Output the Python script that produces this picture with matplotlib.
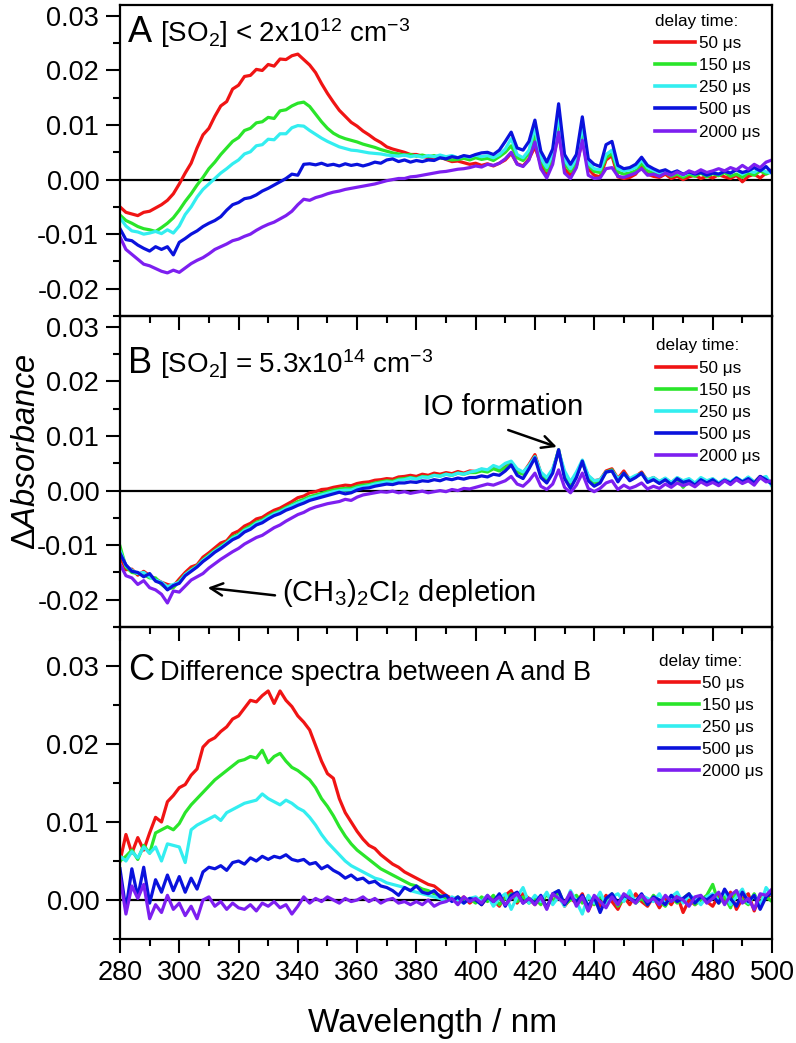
import numpy as np
import matplotlib
matplotlib.use('Agg')
import matplotlib.pyplot as plt
from matplotlib.ticker import MultipleLocator, FormatStrFormatter

plt.rcParams['font.family'] = ['Liberation Sans', 'DejaVu Sans']
plt.rcParams['mathtext.fontset'] = 'custom'
plt.rcParams['mathtext.rm'] = 'Liberation Sans'
plt.rcParams['mathtext.it'] = 'Liberation Sans:italic'
plt.rcParams['axes.unicode_minus'] = False

# wavelength grid, nm (2 nm steps)
wavelength = np.arange(280, 501, 2)
delay_labels = ['50 μs', '150 μs', '250 μs', '500 μs', '2000 μs']
colors = ['#f01414', '#2ae52a', '#33eef0', '#0a12dc', '#7d1ff0']

# all absorbance values below are in units of 1e-3
# panel A: [SO2] < 2x10^12
a_50 = [-5.0, -6.0, -6.3, -6.6, -6.0, -5.8, -5.2, -4.6, -3.8, -2.6,
        -0.8, 1.2, 3.0, 5.8, 8.2, 9.4, 11.6, 13.5, 14.3, 16.6,
        17.3, 18.9, 19.1, 20.2, 20.0, 21.1, 20.8, 22.1, 22.0, 22.7,
        23.0, 22.0, 21.0, 19.6, 17.6, 15.8, 14.2, 12.7, 11.6, 10.5,
        9.8, 8.9, 8.2, 7.4, 6.8, 6.0, 5.6, 5.3, 5.0, 4.6,
        4.6, 4.3, 4.0, 3.8, 4.1, 3.7, 3.3, 3.4, 3.1, 2.8,
        3.0, 2.6, 2.9, 2.5, 3.0, 3.6, 4.8, 2.9, 2.5, 3.8,
        6.0, 2.8, 1.0, 3.5, 8.5, 2.0, 0.8, 2.5, 7.2, 2.0,
        0.8, 0.5, 3.6, 4.4, 0.5, 0.2, 0.4, 1.0, 2.6, 1.0,
        0.6, 0.4, 1.0, 0.2, 0.6, 0.0, 0.5, 0.8, 0.2, 0.6,
        0.3, 0.9, 0.5, 0.2, 0.8, -0.4, 0.6, 1.0, 0.3, 1.2,
        1.8]
a_150 = [-6.5, -7.5, -8.0, -8.6, -9.0, -9.2, -9.5, -8.8, -8.0, -7.0,
         -5.6, -4.0, -2.6, -1.0, 0.4, 2.0, 3.2, 4.6, 5.8, 7.0,
         7.7, 9.0, 9.4, 10.4, 10.6, 11.4, 11.2, 12.6, 12.8, 13.5,
         14.0, 14.2, 13.4, 12.0, 10.6, 9.4, 8.5, 7.9, 7.5, 7.2,
         6.9, 6.5, 6.2, 5.9, 5.5, 5.2, 4.9, 4.7, 4.5, 4.6,
         4.3, 4.5, 4.2, 4.4, 4.0, 3.8, 3.6, 3.7, 3.9, 3.6,
         4.0, 3.7, 3.9, 3.5, 4.2, 5.0, 6.2, 4.0, 3.5, 4.8,
         8.2, 3.6, 1.6, 4.2, 10.5, 3.0, 1.5, 3.2, 9.0, 2.6,
         1.5, 1.3, 4.0, 4.8, 1.4, 1.0, 1.2, 1.6, 3.0, 1.6,
         1.2, 0.8, 1.3, 0.6, 1.0, 0.4, 1.0, 0.6, 1.2, 0.5,
         1.1, 0.7, 1.3, 0.6, 1.0, 0.4, 1.2, 0.8, 1.6, 1.0,
         1.5]
a_250 = [-7.0, -8.5, -9.4, -9.6, -10.0, -9.8, -9.5, -9.9, -9.2, -9.8,
         -8.5, -6.4, -5.0, -3.2, -1.8, -0.8, 0.2, 1.2, 2.0, 2.9,
         3.6, 4.7, 5.1, 6.2, 6.4, 7.4, 7.3, 8.4, 8.4, 9.5,
         9.9, 9.8, 9.0, 8.3, 7.6, 7.0, 6.5, 6.0, 5.7, 5.4,
         5.3, 5.1, 4.9, 4.8, 4.7, 4.5, 4.4, 4.3, 4.5, 4.2,
         4.4, 4.1, 4.4, 4.2, 4.5, 4.2, 4.4, 4.0, 4.3, 4.1,
         4.5, 4.2, 4.4, 4.0, 4.6, 5.6, 7.5, 4.6, 4.0, 5.4,
         9.6, 4.0, 2.2, 4.8, 12.0, 3.6, 2.0, 3.8, 10.0, 3.0,
         2.0, 1.8, 4.6, 5.4, 2.0, 1.6, 1.8, 2.2, 3.6, 2.2,
         1.7, 1.2, 1.6, 1.0, 1.4, 0.8, 1.3, 1.0, 1.5, 0.9,
         1.4, 1.0, 1.6, 1.2, 1.8, 1.0, 1.6, 1.3, 2.0, 1.4,
         1.2]
a_500 = [-9.0, -11.0, -11.2, -12.0, -12.6, -13.1, -12.3, -12.8, -12.3, -13.8,
         -11.5, -10.8, -10.0, -9.4, -8.6, -8.0, -7.5, -6.8, -5.6, -4.6,
         -4.2, -3.5, -3.3, -2.8, -2.1, -1.6, -1.0, -0.4, 0.2, 1.0,
         0.8, 2.8, 2.9, 2.7, 3.0, 2.6, 2.8, 2.5, 2.9, 2.6,
         2.8, 2.5, 2.8, 3.2, 3.0, 3.6, 3.8, 3.3, 3.6, 3.2,
         3.5, 3.3, 3.6, 3.5, 4.0, 3.8, 4.2, 4.0, 4.4, 4.2,
         4.6, 4.9, 5.0, 4.6, 5.4, 7.0, 8.7, 5.8, 5.4, 7.0,
         10.9, 5.2, 3.2, 5.6, 13.9, 4.6, 2.8, 4.6, 11.5, 3.8,
         2.8, 2.4, 6.4, 7.0, 2.6, 2.0, 2.2, 2.8, 4.1, 2.6,
         2.0, 1.5, 1.8, 1.2, 1.6, 1.0, 1.4, 1.0, 1.3, 0.8,
         1.2, 1.0, 1.5, 1.2, 1.8, 1.3, 1.6, 2.2, 1.6, 2.4,
         1.2]
a_2000 = [-10.5, -12.8, -13.7, -14.6, -15.5, -15.8, -16.3, -16.8, -17.1, -16.6,
          -17.0, -16.2, -15.4, -14.8, -14.3, -13.6, -12.8, -12.3, -11.8, -11.2,
          -10.9, -10.4, -10.0, -9.3, -8.7, -8.2, -7.8, -7.2, -6.6, -5.8,
          -4.6, -3.6, -3.8, -3.3, -3.0, -2.6, -2.3, -2.1, -1.8, -1.6,
          -1.4, -1.2, -1.0, -0.8, -0.5, -0.2, 0.0, 0.2, 0.2, 0.5,
          0.6, 0.8, 1.0, 1.2, 1.4, 1.5, 1.7, 1.9, 2.0, 2.2,
          2.5, 2.3, 2.8, 2.6, 3.0, 3.8, 5.0, 2.8, 2.4, 3.6,
          6.9, 2.0, 0.3, 2.8, 8.7, 1.2, 0.2, 2.2, 7.2, 0.8,
          0.2, 0.3, 2.0, 2.2, 0.6, 0.4, 0.8, 1.2, 2.0, 0.8,
          1.0, 0.6, 1.2, 0.8, 1.4, 0.9, 1.6, 1.2, 1.8, 1.3,
          1.6, 2.0, 1.6, 2.2, 1.8, 2.6, 1.9, 2.8, 2.2, 3.2,
          3.6]

# panel B: [SO2] = 5.3x10^14
b_50 = [-12.0, -14.5, -14.4, -15.5, -14.8, -15.6, -16.2, -16.8, -17.2, -17.5,
        -16.2, -15.0, -14.0, -13.6, -12.2, -11.4, -10.5, -9.6, -9.2, -7.9,
        -7.4, -6.5, -6.0, -5.2, -4.9, -4.2, -3.6, -3.2, -2.6, -2.0,
        -1.3, -1.0, -0.4, -0.2, 0.2, 0.3, 0.6, 0.8, 1.0, 0.9,
        1.3, 1.5, 1.6, 1.9, 2.0, 2.2, 2.1, 2.5, 2.6, 2.8,
        2.6, 3.0, 2.8, 3.2, 3.0, 3.3, 3.1, 3.5, 3.2, 3.6,
        3.5, 3.9, 3.6, 4.2, 3.8, 4.4, 5.0, 3.6, 3.2, 4.8,
        6.6, 3.2, 2.0, 3.8, 7.2, 3.0, 1.6, 3.0, 5.2, 2.6,
        1.8, 2.0, 3.6, 4.0, 2.2, 3.6, 2.0, 2.6, 3.4, 1.8,
        2.4, 1.6, 2.2, 1.4, 2.3, 1.7, 2.0, 1.2, 2.2, 1.6,
        2.1, 1.3, 2.0, 1.5, 2.2, 1.6, 2.4, 1.5, 2.6, 1.8,
        1.6]
b_150 = [-10.2, -14.0, -15.0, -15.2, -15.4, -16.0, -16.0, -17.2, -18.0, -17.8,
         -16.6, -15.4, -14.5, -13.8, -12.7, -11.8, -11.0, -10.2, -9.5, -8.5,
         -8.0, -7.1, -6.5, -5.8, -5.4, -4.7, -4.1, -3.7, -3.1, -2.6,
         -2.0, -1.6, -1.1, -0.8, -0.5, -0.2, 0.1, 0.3, 0.4, 0.4,
         0.8, 1.0, 1.1, 1.4, 1.6, 1.8, 1.7, 2.1, 2.2, 2.4,
         2.2, 2.6, 2.5, 2.8, 2.7, 3.0, 2.8, 3.2, 3.0, 3.3,
         3.3, 3.6, 3.4, 4.0, 3.6, 4.2, 5.0, 3.4, 3.0, 4.4,
         6.2, 3.0, 1.8, 3.6, 7.5, 2.8, 1.2, 2.8, 5.4, 2.4,
         1.4, 1.8, 3.4, 3.8, 2.0, 3.2, 2.0, 2.6, 3.2, 1.8,
         2.2, 1.5, 2.1, 1.3, 2.2, 0.6, 1.9, 1.2, 2.1, 1.5,
         2.0, 1.2, 1.9, 1.4, 2.1, 1.5, 2.3, 1.4, 2.5, 1.8,
         1.4]
b_250 = [-11.0, -13.8, -14.6, -15.2, -15.0, -15.8, -16.4, -16.8, -17.6, -17.2,
         -16.8, -15.4, -14.6, -13.9, -12.8, -12.0, -11.1, -10.4, -9.6, -8.7,
         -8.2, -7.3, -6.8, -6.0, -5.6, -4.9, -4.3, -3.9, -3.3, -2.8,
         -2.3, -1.9, -1.4, -1.1, -0.8, -0.5, -0.2, 0.0, 0.1, 0.1,
         0.5, 0.7, 0.9, 1.2, 1.4, 1.6, 1.5, 1.9, 2.0, 2.3,
         2.1, 2.5, 2.4, 2.8, 2.6, 3.0, 2.8, 3.2, 3.0, 3.4,
         3.6, 4.0, 3.8, 4.6, 4.2, 5.0, 5.4, 4.0, 3.4, 4.6,
         6.2, 3.4, 2.4, 4.0, 7.2, 3.6, 1.6, 3.4, 5.6, 2.8,
         1.8, 2.0, 3.4, 3.6, 2.2, 3.0, 2.2, 2.8, 3.0, 2.0,
         2.4, 1.7, 2.3, 1.5, 2.4, 1.8, 2.2, 1.4, 2.4, 1.8,
         2.2, 1.4, 2.1, 1.6, 2.4, 1.7, 2.5, 1.6, 2.2, 2.6,
         0.8]
b_500 = [-11.5, -13.6, -14.8, -15.0, -15.8, -15.2, -16.6, -17.0, -18.2, -17.4,
         -17.0, -15.6, -14.8, -14.0, -13.0, -12.2, -11.3, -10.6, -9.8, -9.0,
         -8.5, -7.6, -7.1, -6.3, -5.9, -5.2, -4.6, -4.2, -3.6, -3.2,
         -2.7, -2.3, -1.8, -1.5, -1.2, -0.9, -0.6, -0.3, -0.6, -0.4,
         0.1, 0.4, 0.5, 0.8, 1.0, 1.2, 1.1, 1.4, 1.4, 1.6,
         1.5, 1.8, 1.7, 2.0, 1.8, 2.2, 2.0, 2.3, 2.1, 2.4,
         2.4, 2.7, 2.5, 3.0, 2.8, 3.6, 4.7, 2.8, 2.2, 4.0,
         6.0, 2.4, 1.4, 3.2, 7.5, 2.2, 0.4, 2.4, 5.4, 1.8,
         0.8, 1.4, 3.4, 3.6, 1.6, 3.2, 1.8, 2.4, 3.2, 1.5,
         2.0, 1.3, 2.0, 1.1, 2.2, 1.5, 1.8, 1.0, 2.0, 1.4,
         2.0, 1.2, 1.9, 1.4, 2.3, 1.6, 2.2, 1.4, 2.6, 2.0,
         1.2]
b_2000 = [-13.5, -15.6, -16.0, -17.2, -16.5, -17.8, -18.2, -19.0, -20.6, -18.4,
          -18.6, -17.5, -16.4, -15.8, -15.2, -14.2, -13.4, -12.6, -11.9, -11.2,
          -10.6, -9.8, -9.2, -8.6, -8.2, -7.5, -6.8, -6.3, -5.6, -5.0,
          -4.4, -4.0, -3.4, -3.0, -2.7, -2.4, -2.2, -2.0, -1.6, -1.8,
          -1.2, -0.8, -0.6, -0.4, -0.2, -0.3, -0.1, -0.4, -0.2, -0.5,
          -0.3, -0.1, -0.4, -0.2, 0.0, -0.2, 0.2, 0.0, 0.4, 0.3,
          0.6, 0.9, 1.2, 1.0, 1.4, 1.8, 2.6, 1.2, 0.8, 1.8,
          3.2, 0.8, 0.2, 1.2, 3.8, 0.6, -0.4, 1.0, 3.2, 0.4,
          -0.2, 0.4, 1.4, 1.8, 0.2, 1.0, 0.4, 0.8, 1.4, 0.3,
          0.8, 0.4, 1.2, 0.6, 1.4, 0.9, 1.3, 0.7, 1.6, 1.0,
          1.5, 0.9, 1.8, 1.1, 2.0, 1.3, 1.8, 1.0, 2.4, 1.6,
          1.8]

# panel C: difference A - B
c_50 = [5.0, 8.4, 6.0, 8.0, 6.4, 8.6, 10.6, 10.0, 12.6, 13.4,
        14.4, 14.8, 16.0, 16.8, 19.6, 20.4, 20.8, 21.6, 22.2, 23.2,
        23.6, 24.6, 25.6, 25.4, 26.2, 26.8, 25.2, 26.8, 25.6, 24.8,
        23.6, 22.8, 21.8, 19.8, 17.8, 16.2, 15.6, 13.0, 11.2, 10.0,
        8.8, 7.8, 7.0, 6.6, 5.8, 5.2, 4.6, 4.2, 3.6, 3.2,
        2.8, 2.4, 2.0, 1.8, 1.2, 0.6, 0.2, -0.2, 0.4, -0.4,
        0.2, -0.6, 0.4, 0.0, -0.8, 0.6, 1.2, -0.4, 0.8, 0.2,
        -0.6, 0.4, -1.0, 0.6, 1.0, -0.8, 0.2, -0.4, 0.8, -1.4,
        0.2, -0.8, 0.6, -0.2, -1.2, 0.4, -0.6, 0.8, -0.2, -0.8,
        0.4, -1.0, 0.2, -0.6, 0.6, -1.6, 0.0, -0.6, 0.4, -0.2,
        -0.8, 0.6, -0.4, 1.0, -1.2, 0.2, 0.8, -1.4, 0.6, 0.2,
        0.8]
c_150 = [5.0, 5.6, 6.4, 5.2, 7.0, 6.0, 8.6, 9.0, 9.4, 9.0,
         9.8, 11.2, 12.2, 13.0, 13.8, 14.6, 15.4, 16.0, 16.6, 17.2,
         17.8, 18.0, 18.4, 18.2, 19.2, 17.6, 18.4, 18.8, 17.8, 17.0,
         16.6, 16.0, 15.4, 14.4, 13.0, 12.0, 10.8, 9.4, 8.2, 7.2,
         6.4, 5.8, 5.2, 4.6, 4.0, 3.6, 3.2, 2.8, 2.4, 2.0,
         1.8, 1.4, 1.2, 0.8, 0.6, 0.2, 0.0, 0.4, -0.2, 0.2,
         -0.4, 0.4, -0.2, 0.6, -0.6, 0.2, 0.8, -0.2, 0.4, -0.4,
         0.2, -0.6, 0.8, -0.4, 1.2, -0.6, 0.0, 0.6, -0.4, 0.4,
         -0.6, 0.4, -0.2, 0.8, -0.8, 0.2, 0.6, -0.4, 0.2, -0.6,
         0.6, -0.2, -0.8, 0.4, -0.4, 0.2, 0.8, -0.6, 0.0, 0.6,
         2.0, -0.4, 0.4, -1.0, 1.2, 0.0, -0.6, 0.8, -0.8, 0.4,
         -0.2]
c_250 = [5.6, 5.0, 6.2, 5.4, 6.8, 6.0, 6.8, 5.0, 7.2, 7.0,
         6.8, 4.8, 9.0, 9.6, 10.0, 10.4, 10.8, 10.2, 11.2, 11.6,
         12.0, 12.4, 12.6, 12.8, 13.6, 13.0, 12.6, 12.2, 12.8, 12.4,
         11.8, 11.4, 10.6, 9.6, 8.4, 7.4, 6.6, 5.8, 5.0, 4.4,
         4.0, 3.6, 3.2, 2.8, 2.6, 2.2, 2.0, 1.8, 1.6, 1.2,
         1.0, 0.8, 0.6, 0.4, 0.2, -0.2, 0.4, 0.0, -0.4, 0.2,
         0.4, -0.2, 0.6, -0.8, 0.2, 0.8, -1.2, 0.4, 1.6, -0.4,
         0.6, -0.2, 1.0, -0.6, 0.4, -0.8, 1.2, -0.2, -1.8, 0.6,
         -0.4, 1.0, -0.6, 0.4, 0.8, -0.2, 1.2, -0.4, 0.6, 0.2,
         -0.2, 0.8, -0.6, 0.4, 1.0, -0.4, 0.6, 0.2, -0.6, 0.4,
         0.8, -0.2, 1.2, -0.6, 0.4, 1.4, -0.4, 0.6, -0.8, 1.6,
         0.6]
c_500 = [4.0, -1.2, 4.0, 0.4, 4.2, -0.4, 2.6, 1.0, 3.2, 1.2,
         3.0, 1.0, 2.8, 1.4, 3.6, 4.2, 4.0, 4.4, 3.8, 4.8,
         5.0, 4.6, 5.4, 5.0, 5.6, 5.2, 5.6, 5.4, 5.8, 5.2,
         5.0, 5.2, 4.6, 4.8, 4.0, 4.4, 3.8, 3.4, 2.8, 3.2,
         2.6, 2.8, 2.2, 2.4, 1.8, 1.6, 1.2, 0.6, 1.6, 1.2,
         1.8, 1.0, 0.8, 1.2, 0.4, 0.6, -0.2, 0.4, -0.4, 0.2,
         0.0, -0.6, 0.4, -0.2, 0.8, -0.8, 0.6, 1.0, -0.4, 0.2,
         -0.4, 0.6, -1.0, 0.8, 1.2, -0.6, 0.4, -0.2, 0.6, -0.8,
         0.4, -1.6, 0.2, 0.8, -0.4, 0.6, 0.2, -0.2, 0.8, -0.6,
         0.4, 0.0, -0.6, 0.6, -0.2, 0.2, 0.8, -0.4, 0.4, 0.0,
         0.6, -0.4, 1.4, 0.2, -0.8, 1.0, -0.2, 0.6, -1.2, 0.4,
         1.0]
c_2000 = [3.0, -1.8, 1.8, 0.2, 2.0, -2.4, -0.6, -1.6, 0.6, -1.2,
          -0.4, -2.0, -0.8, -2.4, 0.0, 0.4, -0.8, -0.2, -1.2, -0.4,
          -1.0, -1.2, -0.6, -1.4, -0.4, -0.8, -0.2, -1.0, -0.6, -1.8,
          -0.8, 0.4, -0.4, 0.2, -0.2, 0.4, 0.0, -0.4, 0.2, -0.2,
          0.0, 0.4, -0.2, 0.2, -0.4, 0.0, 0.2, -0.4, -0.2, -0.6,
          -0.2, -0.6, 0.0, -0.8, -0.4, -0.2, 0.2, -0.6, 0.4, -0.2,
          0.2, -0.4, 0.6, -0.2, 0.4, -0.6, 0.2, 0.8, -0.4, 0.2,
          -0.6, 0.4, -1.2, 0.8, 0.2, -0.4, 1.0, -0.8, 0.4, -1.4,
          0.6, -0.2, -1.0, 0.4, -0.6, 0.8, 0.2, -0.4, 0.6, -0.2,
          0.2, -0.6, 0.6, -0.2, 0.4, 0.0, -0.8, 0.4, 0.6, -0.4,
          0.2, 1.0, -0.6, 0.6, 1.2, -0.4, 0.2, -1.2, 0.8, 0.6,
          1.4]

panel_a = [a_50, a_150, a_250, a_500, a_2000]
panel_b = [b_50, b_150, b_250, b_500, b_2000]
panel_c = [c_50, c_150, c_250, c_500, c_2000]

W, H = 796, 1043
fig = plt.figure(figsize=(W / 100, H / 100), dpi=100)
fig.patch.set_facecolor('white')


def px_axes(top, bottom, left=120, right=772):
    return fig.add_axes([left / W, 1 - bottom / H, (right - left) / W, (bottom - top) / H])


def draw_panel(ax, series, ylim, legend_anchor, show_xlabels):
    ax.patch.set_alpha(0)
    ax.axhline(0, color='k', lw=1.6, zorder=1)
    for vals, c, lab in zip(series, colors, delay_labels):
        ax.plot(wavelength, np.array(vals) / 1000.0, color=c, lw=2.3, label=lab,
                solid_joinstyle='round')
    ax.set_xlim(280, 500)
    ax.set_ylim(*ylim)
    ax.xaxis.set_major_locator(MultipleLocator(20))
    ax.xaxis.set_minor_locator(MultipleLocator(10))
    ax.yaxis.set_major_locator(MultipleLocator(0.01))
    ax.yaxis.set_minor_locator(MultipleLocator(0.005))
    ax.yaxis.set_major_formatter(FormatStrFormatter('%.2f'))
    ax.tick_params(which='major', direction='out', length=10, width=1.5,
                   labelsize=19.5, pad=5, top=False, right=False)
    ax.tick_params(which='minor', direction='out', length=5, width=1.5,
                   top=False, right=False)
    ax.tick_params(axis='x', labelbottom=show_xlabels)
    for s in ax.spines.values():
        s.set_linewidth(1.6)
    leg = ax.legend(loc='upper left', bbox_to_anchor=legend_anchor, frameon=False,
                    title='delay time:', fontsize=12.3, title_fontsize=12.3,
                    handlelength=2.35, handletextpad=0.18, labelspacing=0.42,
                    borderpad=0, borderaxespad=0)
    leg._legend_box.align = 'left'
    for line in leg.get_lines():
        line.set_linewidth(2.6)
    return ax


ax_a = px_axes(5, 316)
ax_b = px_axes(316, 627)
ax_c = px_axes(627, 939)

draw_panel(ax_a, panel_a, (-0.025, 0.032), (0.821, 0.972), False)
draw_panel(ax_b, panel_b, (-0.025, 0.032), (0.822, 0.928), False)
draw_panel(ax_c, panel_c, (-0.005, 0.035), (0.827, 0.915), True)

ax_a.text(0.012, 0.881, 'A', transform=ax_a.transAxes, fontsize=26, va='baseline')
ax_a.text(0.061, 0.881, r'[SO$_2$] < 2x10$^{12}$ cm$^{-3}$', transform=ax_a.transAxes,
          fontsize=20, va='baseline')
ax_b.text(0.012, 0.817, 'B', transform=ax_b.transAxes, fontsize=26, va='baseline')
ax_b.text(0.061, 0.817, r'[SO$_2$] = 5.3x10$^{14}$ cm$^{-3}$', transform=ax_b.transAxes,
          fontsize=20, va='baseline')
ax_c.text(0.012, 0.830, 'C', transform=ax_c.transAxes, fontsize=26, va='baseline')
ax_c.text(0.061, 0.830, 'Difference spectra between A and B', transform=ax_c.transAxes,
          fontsize=19.5, va='baseline')

ax_b.text(382.2, 0.0139, 'IO formation', fontsize=21, va='baseline')
ax_b.annotate('', xy=(427.4, 0.0080), xytext=(411.0, 0.0111),
              arrowprops=dict(arrowstyle='->', lw=1.8, color='k', mutation_scale=22,
                              shrinkA=0, shrinkB=0))
ax_b.text(334.6, -0.0202, r'(CH$_3$)$_2$CI$_2$ depletion', fontsize=21, va='baseline')
ax_b.annotate('', xy=(309.6, -0.0178), xytext=(332.3, -0.0192),
              arrowprops=dict(arrowstyle='->', lw=1.8, color='k', mutation_scale=22,
                              shrinkA=0, shrinkB=0))

fig.text(0.033, 0.567, r'$\Delta$$\it{Absorbance}$', rotation=90, fontsize=23.5,
         ha='center', va='center')
fig.text(0.544, 0.011, 'Wavelength / nm', fontsize=24, ha='center', va='baseline')

fig.savefig('out.png', dpi=100)
